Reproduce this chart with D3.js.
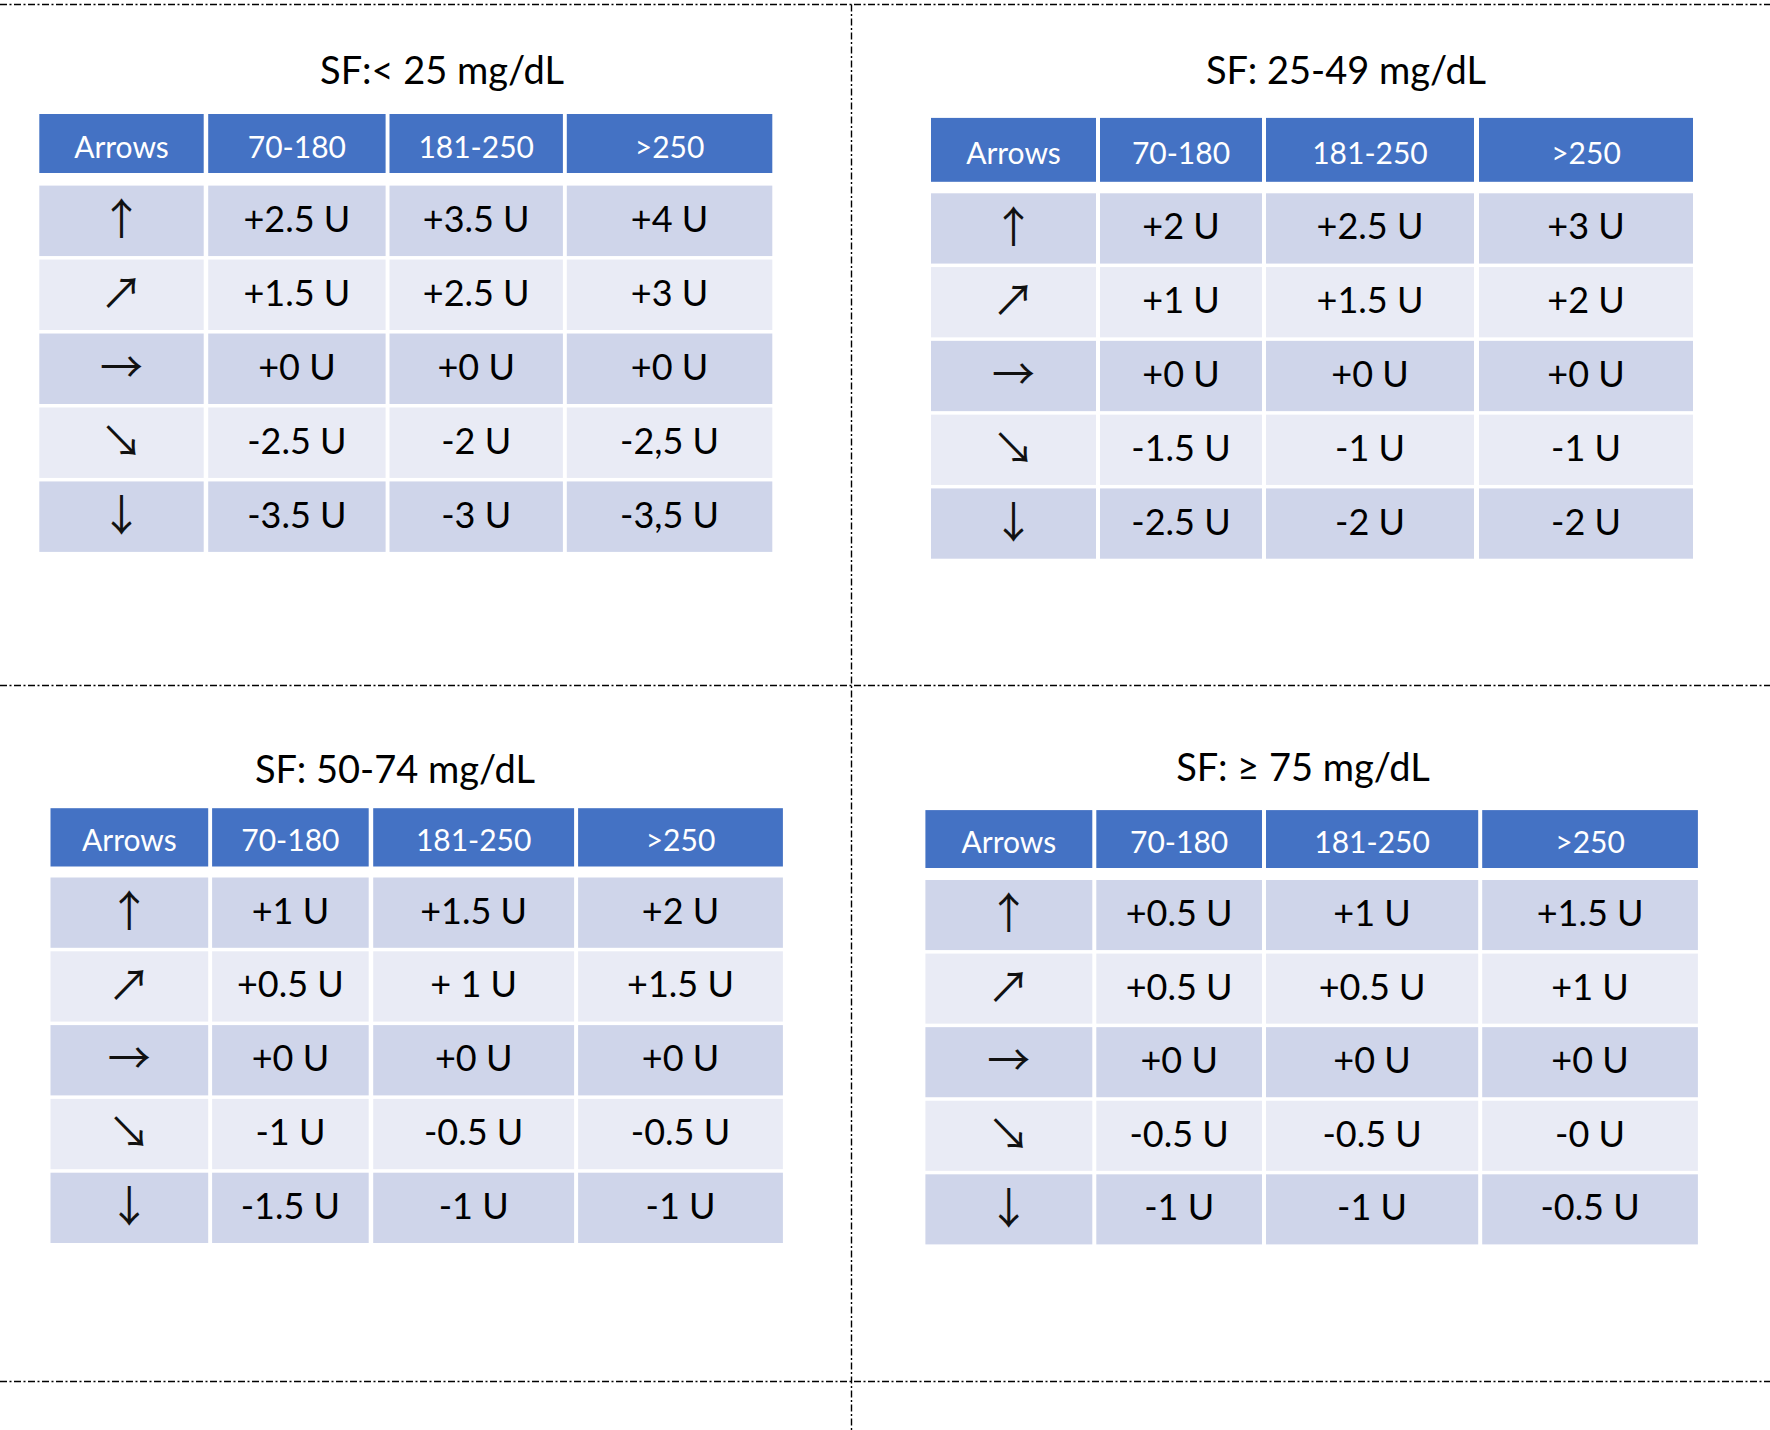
<!DOCTYPE html>
<html>
<head>
<meta charset="utf-8">
<title>SF tables</title>
<script src="https://cdn.jsdelivr.net/npm/d3@7"></script>
<style>
  body { margin: 0; background: #fff; }
  svg { display: block; }
</style>
</head>
<body>
<div id="chart"></div>
<script>
// ---- data ----
const panelTitles = ["SF:< 25 mg/dL", "SF: 25-49 mg/dL", "SF: 50-74 mg/dL", "SF: \u2265 75 mg/dL"];
const columnLabels = ["Arrows", "70-180", "181-250", ">250"];
const arrowLabels = ["\u2191", "\u2197", "\u2192", "\u2198", "\u2193"];

const dosesSF1 = [
  ["+2.5 U", "+3.5 U", "+4 U"],
  ["+1.5 U", "+2.5 U", "+3 U"],
  ["+0 U", "+0 U", "+0 U"],
  ["-2.5 U", "-2 U", "-2,5 U"],
  ["-3.5 U", "-3 U", "-3,5 U"]
];
const dosesSF2 = [
  ["+2 U", "+2.5 U", "+3 U"],
  ["+1 U", "+1.5 U", "+2 U"],
  ["+0 U", "+0 U", "+0 U"],
  ["-1.5 U", "-1 U", "-1 U"],
  ["-2.5 U", "-2 U", "-2 U"]
];
const dosesSF3 = [
  ["+1 U", "+1.5 U", "+2 U"],
  ["+0.5 U", "+ 1 U", "+1.5 U"],
  ["+0 U", "+0 U", "+0 U"],
  ["-1 U", "-0.5 U", "-0.5 U"],
  ["-1.5 U", "-1 U", "-1 U"]
];
const dosesSF4 = [
  ["+0.5 U", "+1 U", "+1.5 U"],
  ["+0.5 U", "+0.5 U", "+1 U"],
  ["+0 U", "+0 U", "+0 U"],
  ["-0.5 U", "-0.5 U", "-0 U"],
  ["-1 U", "-1 U", "-0.5 U"]
];
const panelDoses = [dosesSF1, dosesSF2, dosesSF3, dosesSF4];

// ---- layout (pixels) ----
const width = 1770, height = 1430;
const layout = [
  {tx: 442, ty: 84, head: [114, 173], rows: [185.6, 551.9],
   cols: [[39.3, 203.7], [208.2, 385.6], [389.5, 562.9], [566.8, 772.3]]},
  {tx: 1346, ty: 84, head: [117.9, 181.8], rows: [193.3, 558.7],
   cols: [[931, 1096], [1100, 1262], [1266, 1474], [1479, 1693]]},
  {tx: 395, ty: 783, head: [808.2, 866.5], rows: [877.5, 1243],
   cols: [[50.5, 208.2], [212.1, 368.7], [373.2, 574.1], [578.1, 782.9]]},
  {tx: 1303, ty: 781, head: [810.1, 868], rows: [880, 1244.4],
   cols: [[925.4, 1092.3], [1096.3, 1262], [1266, 1478.2], [1482.2, 1697.9]]}
];
const rowGap = 3.5;
const headBlue = "#4472c4", rowDark = "#cfd5ea", rowLight = "#e9ebf5";
const textFont = "Lato, 'Open Sans', sans-serif";
const arrowFont = "'Noto Sans CJK SC', 'DejaVu Sans', sans-serif";

const svg = d3.select("#chart").append("svg")
  .attr("width", width)
  .attr("height", height)
  .attr("viewBox", [0, 0, width, height]);

// dash-dot separators
const sepDash = "7,2.5,2,2.5";
const sep = svg.append("g")
  .attr("stroke", "#000")
  .attr("stroke-width", 1.4)
  .attr("stroke-dasharray", sepDash)
  .attr("fill", "none");
[4.5, 685.5, 1381.5].forEach(y => {
  sep.append("line").attr("x1", 0).attr("x2", width).attr("y1", y).attr("y2", y);
});
sep.append("line").attr("x1", 851.5).attr("x2", 851.5).attr("y1", 4.5).attr("y2", height);

panelTitles.forEach((title, p) => {
  const L = layout[p];
  const doses = panelDoses[p];
  const g = svg.append("g").attr("class", "panel panel" + p);

  const xStart = d3.scaleOrdinal().domain(columnLabels).range(L.cols.map(c => c[0]));
  const xWidth = d3.scaleOrdinal().domain(columnLabels).range(L.cols.map(c => c[1] - c[0]));
  const step = (L.rows[1] - L.rows[0] + rowGap) / arrowLabels.length;
  const y = d3.scaleBand()
    .domain(arrowLabels)
    .range(L.rows)
    .paddingInner(rowGap / step)
    .paddingOuter(0);

  g.append("text")
    .attr("x", L.tx)
    .attr("y", L.ty)
    .attr("text-anchor", "middle")
    .style("font-family", textFont)
    .style("font-size", "38px")
    .style("fill", "#000")
    .text(title);

  // header
  const hg = g.append("g").attr("class", "header");
  hg.selectAll("rect")
    .data(columnLabels)
    .join("rect")
    .attr("x", d => xStart(d))
    .attr("y", L.head[0])
    .attr("width", d => xWidth(d))
    .attr("height", L.head[1] - L.head[0])
    .style("fill", headBlue);
  hg.selectAll("text")
    .data(columnLabels)
    .join("text")
    .attr("x", d => xStart(d) + xWidth(d) / 2)
    .attr("y", (L.head[0] + L.head[1]) / 2 + 14)
    .attr("text-anchor", "middle")
    .style("font-family", textFont)
    .style("font-size", "30px")
    .style("fill", "#fff")
    .text(d => d);

  // body rows
  const rows = g.selectAll("g.row")
    .data(arrowLabels.map((a, i) => ({arrow: a, i: i, vals: doses[i]})))
    .join("g")
    .attr("class", "row");

  rows.selectAll("rect")
    .data(d => columnLabels.map(c => ({col: c, row: d})))
    .join("rect")
    .attr("x", d => xStart(d.col))
    .attr("y", d => y(d.row.arrow))
    .attr("width", d => xWidth(d.col))
    .attr("height", y.bandwidth())
    .style("fill", d => d.row.i % 2 === 0 ? rowDark : rowLight);

  rows.append("text")
    .attr("class", "arrow")
    .attr("x", xStart("Arrows") + xWidth("Arrows") / 2)
    .attr("y", d => y(d.arrow) + y.bandwidth() / 2)
    .attr("dy", "0.33em")
    .attr("text-anchor", "middle")
    .style("font-family", arrowFont)
    .style("font-size", "43px")
    .style("fill", "#111")
    .text(d => d.arrow);

  rows.selectAll("text.dose")
    .data(d => d.vals.map((v, j) => ({v: v, col: columnLabels[j + 1], row: d})))
    .join("text")
    .attr("class", "dose")
    .attr("x", d => xStart(d.col) + xWidth(d.col) / 2)
    .attr("y", d => y(d.row.arrow) + y.bandwidth() / 2 + 11)
    .attr("text-anchor", "middle")
    .style("font-family", textFont)
    .style("font-size", "36px")
    .style("fill", "#000")
    .text(d => d.v);
});
</script>
</body>
</html>
